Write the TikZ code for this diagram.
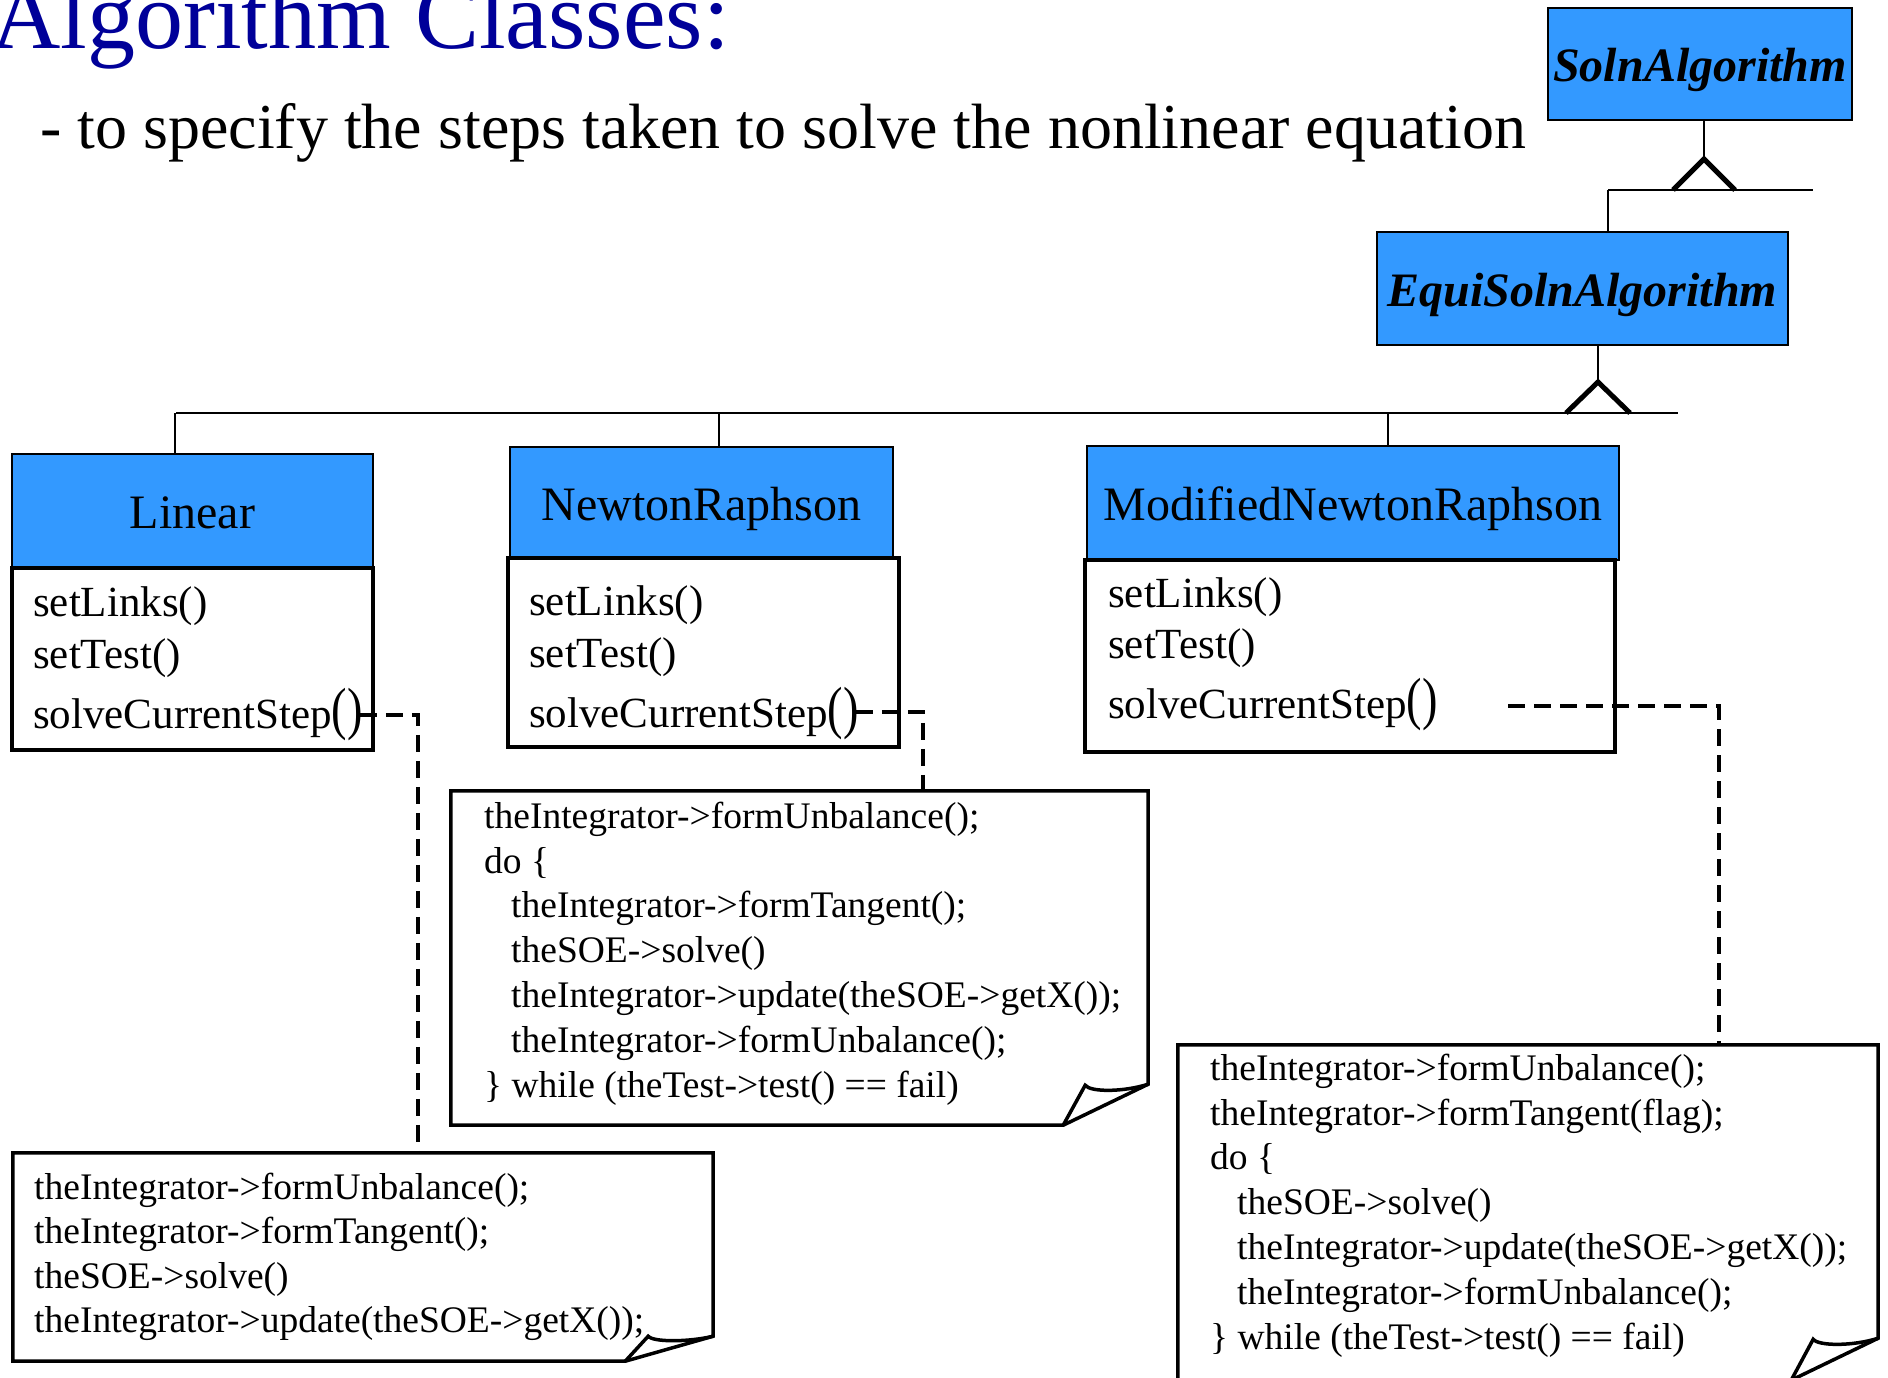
\documentclass[tikz,border=0pt]{standalone}
\usepackage{fontspec}
\setmainfont{Liberation Serif}
\usepackage{graphicx}
\usetikzlibrary{calc}
\definecolor{umlblue}{RGB}{51,153,255}
\definecolor{titleblue}{RGB}{0,0,153}
\newcommand{\myfs}[1]{\fontsize{#1}{#1}\selectfont}
\newcommand{\bigpar}{\scalebox{1.08}[1.35]{()}}
\newcommand{\ind}{\hspace*{27pt}}
\tikzset{
  hdr/.style={draw, line width=2pt, fill=umlblue, inner sep=0pt, text height=35pt, text depth=0pt, font=\myfs{48}},
  bodybox/.style={draw, line width=4pt, fill=white, inner sep=0pt},
  meth/.style={anchor=base west, inner sep=0pt, font=\myfs{43}},
  inh/.style={line width=2pt},
  tri/.style={line width=5pt, line join=miter, line cap=butt},
  dep/.style={line width=3.2pt, dash pattern=on 17pt off 9pt},
  noteframe/.style={line width=3.5pt, line join=miter},
  notearea/.style={inner sep=0pt},
  notetext/.style={anchor=north west, inner sep=0pt, align=left, font={\fontsize{37.5pt}{44.8pt}\selectfont}}
}
\begin{document}
\begin{tikzpicture}[x=1pt,y=-1pt]
\useasboundingbox (0,0) rectangle (1888,1377);
\clip (0,0) rectangle (1888,1377);

% titles
\node[anchor=base west, inner sep=0pt, text=titleblue, font=\myfs{96}] (title) at (-9,48) {Algorithm Classes:};
\node[anchor=base west, inner sep=0pt, font=\myfs{64}] (subtitle) at (40,148) {- to specify the steps taken to solve the nonlinear equation};

% abstract classes
\node[hdr, minimum width=304pt, minimum height=112pt, font={\myfs{48}\bfseries\itshape}] (soln) at (1700,64) {SolnAlgorithm};
\node[hdr, minimum width=411pt, minimum height=113pt, font={\myfs{48}\bfseries\itshape}] (equi) at (1582.5,288.5) {EquiSolnAlgorithm};

% inheritance Soln <- Equi
\coordinate (t1) at (1704,159);
\coordinate (h1L) at (1608,190);
\coordinate (h1R) at (1813,190);
\draw[inh] (t1 |- soln.south) -- (t1);
\draw[inh] (h1L) -- (h1R);
\draw[tri] (1673,190) -- (t1) -- (1735,190);
\draw[inh] (h1L) -- (h1L |- equi.north);

% inheritance Equi <- concrete
\coordinate (t2) at (1598,382);
\coordinate (h2L) at (176,413);
\coordinate (h2R) at (1678,413);
\draw[inh] (t2 |- equi.south) -- (t2);
\draw[inh] (h2L) -- (h2R);
\draw[tri] (1566,413) -- (t2) -- (1630,413);

% Linear
\node[hdr, minimum width=361pt, minimum height=114pt] (lin) at (192.5,511) {Linear};
\node[bodybox, minimum width=361pt, minimum height=182pt] (linbody) at (192.5,659) {};
\node[meth] (lin1) at (33,616) {setLinks()};
\node[meth] (lin2) at (33,668) {setTest()};
\node[meth] (lin3) at (33,728) {solveCurrentStep\bigpar};

% NewtonRaphson
\node[hdr, minimum width=383pt, minimum height=111pt] (nr) at (701.5,502.5) {NewtonRaphson};
\node[bodybox, minimum width=391pt, minimum height=189pt] (nrbody) at (703.5,652.5) {};
\node[meth] (nr1) at (529,615) {setLinks()};
\node[meth] (nr2) at (529,667) {setTest()};
\node[meth] (nr3) at (529,727) {solveCurrentStep\bigpar};

% ModifiedNewtonRaphson
\node[hdr, minimum width=532pt, minimum height=114pt] (mnr) at (1353,503) {ModifiedNewtonRaphson};
\node[bodybox, minimum width=530pt, minimum height=192pt] (mnrbody) at (1350,656) {};
\node[meth] (mnr1) at (1108,607) {setLinks()};
\node[meth] (mnr2) at (1108,658) {setTest()};
\node[meth] (mnr3) at (1108,718) {solveCurrentStep\bigpar};

\draw[inh] (175,413) -- (lin.north -| 175,0);
\draw[inh] (719,413) -- (nr.north -| 719,0);
\draw[inh] (1388,413) -- (mnr.north -| 1388,0);

% note 1 (NewtonRaphson)
\node[notearea, minimum width=697pt, minimum height=334pt] (note1) at (799.5,958) {};
\draw[noteframe, fill=white] (note1.north west) -- (note1.north east) -- ($(note1.south east)+(0,-41)$) -- ($(note1.south east)+(-85,0)$) -- (note1.south west) -- cycle;
\draw[noteframe] ($(note1.south east)+(-85,0)$) -- ($(note1.south east)+(-63,-40)$) .. controls ($(note1.south east)+(-58,-33)$) and ($(note1.south east)+(-25,-33)$) .. ($(note1.south east)+(0,-41)$);
\node[notetext] (note1text) at (484,798) {\rule{0pt}{30pt}theIntegrator->formUnbalance();\\
do \{\\
\ind theIntegrator->formTangent();\\
\ind theSOE->solve()\\
\ind theIntegrator->update(theSOE->getX());\\
\ind theIntegrator->formUnbalance();\\
\} while (theTest->test() == fail)};

% note 2 (Linear)
\node[notearea, minimum width=700pt, minimum height=208pt] (note2) at (363,1257) {};
\draw[noteframe, fill=white] (note2.north west) -- (note2.north east) -- ($(note2.south east)+(0,-25)$) -- ($(note2.south east)+(-88,0)$) -- (note2.south west) -- cycle;
\draw[noteframe] ($(note2.south east)+(-88,0)$) -- ($(note2.south east)+(-65,-25)$) .. controls ($(note2.south east)+(-60,-19)$) and ($(note2.south east)+(-25,-19)$) .. ($(note2.south east)+(0,-25)$);
\node[notetext, font={\fontsize{37.5pt}{44.5pt}\selectfont}] (note2text) at (34,1169) {\rule{0pt}{30pt}theIntegrator->formUnbalance();\\
theIntegrator->formTangent();\\
theSOE->solve()\\
theIntegrator->update(theSOE->getX());};

% note 3 (ModifiedNewtonRaphson)
\node[notearea, minimum width=700pt, minimum height=335pt] (note3) at (1528,1212.5) {};
\draw[noteframe, fill=white] (note3.north west) -- (note3.north east) -- ($(note3.south east)+(0,-42)$) -- ($(note3.south east)+(-87,0)$) -- (note3.south west) -- cycle;
\draw[noteframe] ($(note3.south east)+(-87,0)$) -- ($(note3.south east)+(-65,-41)$) .. controls ($(note3.south east)+(-60,-34)$) and ($(note3.south east)+(-25,-34)$) .. ($(note3.south east)+(0,-42)$);
\node[notetext] (note3text) at (1210,1050) {\rule{0pt}{30pt}theIntegrator->formUnbalance();\\
theIntegrator->formTangent(flag);\\
do \{\\
\ind theSOE->solve()\\
\ind theIntegrator->update(theSOE->getX());\\
\ind theIntegrator->formUnbalance();\\
\} while (theTest->test() == fail)};

% dependency (dashed) connectors
\coordinate (d1b) at (418,715);
\draw[dep] ($(lin3.base east)+(-3,-13)$) -- (d1b) -- (d1b |- note2.north);
\coordinate (d2b) at (923,712);
\draw[dep] ($(nr3.base east)+(-3,-15)$) -- (d2b) -- (d2b |- note1.north);
\coordinate (d3a) at (1508,706);
\coordinate (d3b) at (1719,706);
\draw[dep] (d3a) -- (d3b) -- (d3b |- note3.north);
\end{tikzpicture}
\end{document}
